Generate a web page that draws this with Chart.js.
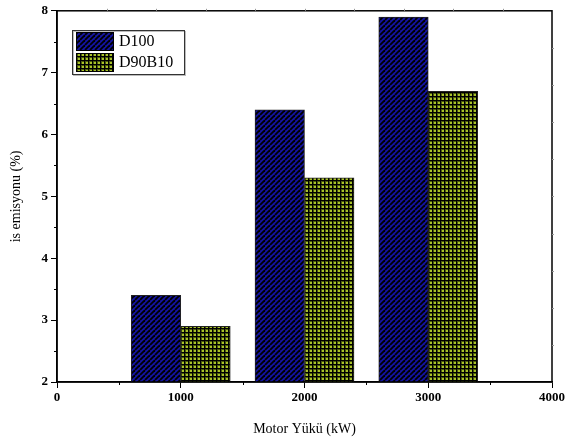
<!DOCTYPE html>
<html>
<head>
<meta charset="utf-8">
<script src="https://cdn.jsdelivr.net/npm/chart.js@4"></script>
<style>
  html, body { margin: 0; padding: 0; background: #fff; }
</style>
</head>
<body>
<canvas id="chart" width="565" height="444"></canvas>
<script>
const seriesNames = ['D100', 'D90B10'];
const d100X = [800, 1800, 2800];
const d100Y = [3.4, 6.4, 7.9];
const d90b10X = [1200, 2200, 3200];
const d90b10Y = [2.9, 5.3, 6.7];
const xTicks = [0, 1000, 2000, 3000, 4000];

const serif = '"Liberation Serif", "Times New Roman", serif';

// hatch fills
function stripePattern() {
    const s = 5;
    const c = document.createElement('canvas');
    c.width = s; c.height = s;
    const g = c.getContext('2d');
    g.fillStyle = '#1414a0';
    g.fillRect(0, 0, s, s);
    g.strokeStyle = '#000';
    g.lineWidth = 1.8;
    for (const o of [-s, 0, s]) {
        g.beginPath();
        g.moveTo(o, s);
        g.lineTo(o + s, 0);
        g.stroke();
    }
    return g.createPattern(c, 'repeat');
}

function gridPattern() {
    const s = 4;
    const c = document.createElement('canvas');
    c.width = s; c.height = s;
    const g = c.getContext('2d');
    g.fillStyle = '#a9c22a';
    g.fillRect(0, 0, s, s);
    g.fillStyle = '#4a5a0c';
    g.fillRect(1, 0, 1, s);
    g.fillRect(0, 1, s, 1);
    g.fillStyle = '#000';
    g.fillRect(0, 0, 1, s);
    g.fillRect(0, 0, s, 1);
    return g.createPattern(c, 'repeat');
}

const fills = [stripePattern(), gridPattern()];

const framePlugin = {
    id: 'frame',
    afterDraw(chart) {
        const { ctx, chartArea: a, scales: { x, y } } = chart;
        ctx.save();
        ctx.strokeStyle = '#000';
        ctx.lineWidth = 1.5;
        ctx.strokeRect(a.left, a.top, a.right - a.left, a.bottom - a.top);

        // minor ticks, bottom and left
        ctx.lineWidth = 1;
        for (let v = 500; v < 4000; v += 1000) {
            const px = Math.round(x.getPixelForValue(v)) + 0.5;
            ctx.beginPath();
            ctx.moveTo(px, a.bottom);
            ctx.lineTo(px, a.bottom + 3);
            ctx.stroke();
        }
        for (let v = 2.5; v < 8; v += 1) {
            const py = Math.round(y.getPixelForValue(v)) + 0.5;
            ctx.beginPath();
            ctx.moveTo(a.left, py);
            ctx.lineTo(a.left - 3, py);
            ctx.stroke();
        }

        // faint ticks on top and right
        ctx.strokeStyle = '#999';
        for (let v = 400; v < 4000; v += 400) {
            const px = Math.round(x.getPixelForValue(v)) + 0.5;
            ctx.beginPath();
            ctx.moveTo(px, a.top);
            ctx.lineTo(px, a.top - 2);
            ctx.stroke();
        }
        for (let v = 7.4; v > 2.1; v -= 0.6) {
            const py = Math.round(y.getPixelForValue(v)) + 0.5;
            ctx.beginPath();
            ctx.moveTo(a.right, py);
            ctx.lineTo(a.right + 2, py);
            ctx.stroke();
        }

        // legend
        const lx = 72, ly = 30, lw = 112, lh = 44;
        ctx.fillStyle = '#fff';
        ctx.fillRect(lx, ly, lw, lh);
        ctx.strokeStyle = '#bbb';
        ctx.lineWidth = 1;
        ctx.strokeRect(lx + 1.5, ly + 1.5, lw, lh);
        ctx.strokeStyle = '#333';
        ctx.strokeRect(lx + 0.5, ly + 0.5, lw, lh);
        ctx.font = '16px ' + serif;
        ctx.textBaseline = 'middle';
        seriesNames.forEach((name, i) => {
            const by = ly + 2 + i * 21;
            ctx.fillStyle = fills[i];
            ctx.fillRect(lx + 4, by, 38, 19);
            ctx.strokeStyle = '#000';
            ctx.strokeRect(lx + 4.5, by + 0.5, 37, 18);
            ctx.fillStyle = '#000';
            ctx.fillText(name, lx + 47, by + 10);
        });
        ctx.restore();
    }
};

new Chart(document.getElementById('chart'), {
    type: 'bar',
    data: {
        datasets: [
            {
                label: seriesNames[0],
                data: d100X.map((v, i) => ({ x: v, y: d100Y[i] })),
                backgroundColor: fills[0],
                borderColor: '#222',
                borderWidth: 1,
            },
            {
                label: seriesNames[1],
                data: d90b10X.map((v, i) => ({ x: v, y: d90b10Y[i] })),
                backgroundColor: fills[1],
                borderColor: '#222',
                borderWidth: 1,
            },
        ],
    },
    options: {
        responsive: false,
        animation: false,
        grouped: false,
        barPercentage: 1,
        categoryPercentage: 1,
        layout: { padding: { top: 10, right: 0, left: 0, bottom: 0 } },
        plugins: {
            legend: { display: false },
            tooltip: { enabled: false },
        },
        scales: {
            x: {
                type: 'linear',
                offset: false,
                min: 0,
                max: 4000,
                afterBuildTicks: (s) => { s.ticks = xTicks.map(v => ({ value: v })); },
                afterFit: (s) => { s.height = 62; s.paddingRight = 13; },
                ticks: {
                    color: '#000',
                    font: { family: serif, size: 13, weight: 'bold' },
                    padding: 2,
                    maxRotation: 0,
                    callback: (v) => String(v),
                },
                grid: { offset: false, drawOnChartArea: false, color: '#000', tickLength: 6, tickColor: '#000' },
                border: { color: '#000', width: 1.5 },
                title: {
                    display: true,
                    text: 'Motor Yükü (kW)',
                    color: '#000',
                    font: { family: serif, size: 14 },
                    padding: { top: 6, bottom: 6 },
                },
            },
            y: {
                min: 2,
                max: 8,
                afterFit: (s) => { s.width = 57; },
                ticks: {
                    stepSize: 1,
                    color: '#000',
                    font: { family: serif, size: 13, weight: 'bold' },
                    padding: 3,
                },
                grid: { drawOnChartArea: false, color: '#000', tickLength: 6, tickColor: '#000' },
                border: { color: '#000', width: 1.5 },
                title: {
                    display: true,
                    text: 'is emisyonu (%)',
                    color: '#000',
                    font: { family: serif, size: 14 },
                    padding: { top: 8, bottom: 0 },
                },
            },
        },
    },
    plugins: [framePlugin],
});
</script>
</body>
</html>
